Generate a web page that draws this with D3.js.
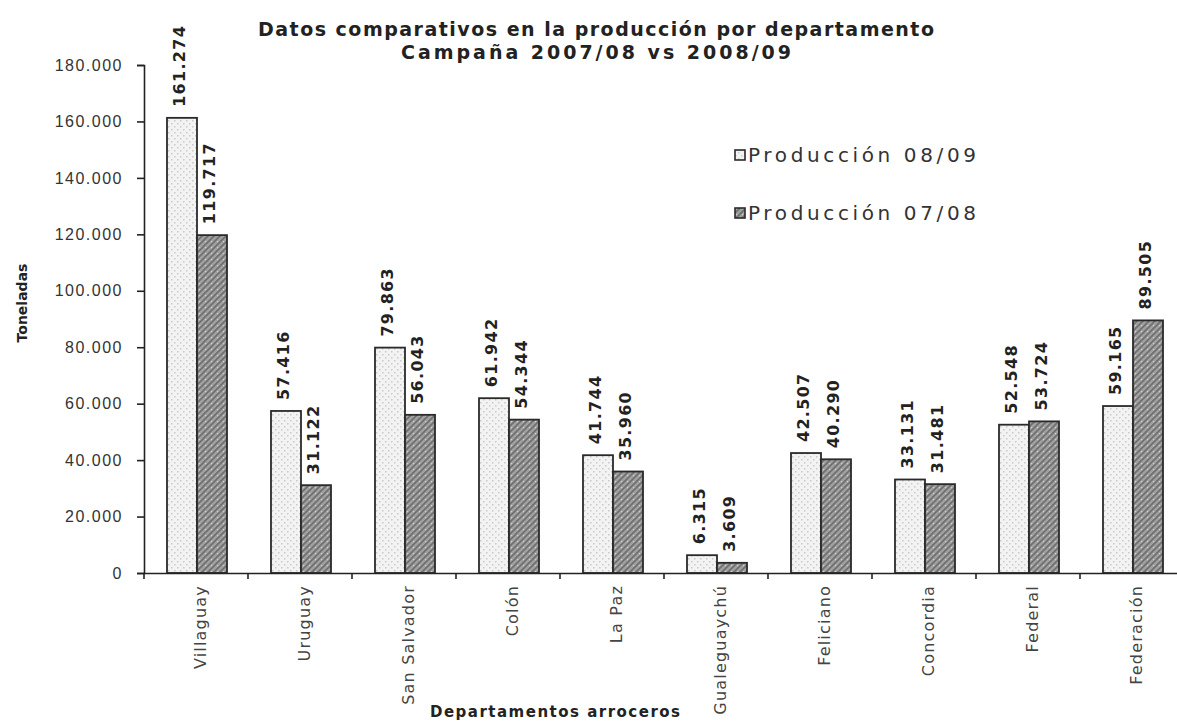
<!DOCTYPE html>
<html lang="es">
  <head>
    <meta charset="utf-8">
    <title>Producción por departamento</title>
    <script src="https://cdn.jsdelivr.net/npm/d3@7"></script>
    <style>
    body{margin:0;background:#fff;}
    svg{display:block;font-family:"DejaVu Sans",sans-serif;}
    .axis path,.axis line{stroke:#222;stroke-width:1.6px;}
    .axis text{fill:#333;}
    .y.axis text{font-size:16px;letter-spacing:1.5px;}
    .cat{font-size:16px;fill:#444;letter-spacing:1.2px;}
    .val{font-size:16px;font-weight:bold;fill:#222;letter-spacing:1.3px;}
    .title{font-size:19px;font-weight:bold;fill:#222;}
    .lab{font-size:14px;font-weight:bold;fill:#222;}
    .leg{font-size:20px;fill:#333;}
    </style>
  </head>
  <body>
    <svg></svg>
    <script>
      var categories=["Villaguay","Uruguay","San Salvador","Colón","La Paz","Gualeguaychú","Feliciano","Concordia","Federal","Federación"];
      var series=["Producción 08/09","Producción 07/08"];
      var prod0809=[161274,57416,79863,61942,41744,6315,42507,33131,52548,59165];
      var prod0708=[119717,31122,56043,54344,35960,3609,40290,31481,53724,89505];
      var yTicks=[0,20000,40000,60000,80000,100000,120000,140000,160000,180000];

      var W=1177,H=722;
      var plotLeft=144,plotBottom=573,plotTop=65;

      var es=d3.formatLocale({decimal:",",thousands:".",grouping:[3],currency:["$",""]});
      var fmt=es.format(",d");

      var rows=categories.map(function(c,i){
        return {cat:c,vals:[prod0809[i],prod0708[i]]};
      });

      var svg=d3.select("svg").attr("width",W).attr("height",H);

      var defs=svg.append("defs");
      var p1=defs.append("pattern").attr("id","light")
        .attr("patternUnits","userSpaceOnUse").attr("width",6).attr("height",6);
      p1.append("rect").attr("width",6).attr("height",6).attr("fill","#f3f3f3");
      p1.append("rect").attr("x",0).attr("y",0).attr("width",1.5).attr("height",1.5).attr("fill","#c9c9c9");
      p1.append("rect").attr("x",3).attr("y",3).attr("width",1.5).attr("height",1.5).attr("fill","#c9c9c9");
      var p2=defs.append("pattern").attr("id","dark")
        .attr("patternUnits","userSpaceOnUse").attr("width",6).attr("height",6);
      p2.append("rect").attr("width",6).attr("height",6).attr("fill","#a0a0a0");
      p2.append("path").attr("d","M0,6 L6,0 M-1,1 L1,-1 M5,7 L7,5")
        .attr("stroke","#6e6e6e").attr("stroke-width",1.6);
      p2.append("rect").attr("x",1).attr("y",1).attr("width",1.2).attr("height",1.2).attr("fill","#d0d0d0");
      var fills=["url(#light)","url(#dark)"];

      var x=d3.scaleBand().domain(categories).range([plotLeft,plotLeft+104*categories.length]).padding(0);
      var xs=d3.scaleBand().domain(series).range([23,83]).padding(0);
      var y=d3.scaleLinear().domain([0,180000]).range([plotBottom,plotTop]);

      // bars
      var g=svg.selectAll("g.grp").data(rows).enter().append("g")
        .attr("class","grp")
        .attr("transform",function(d){return "translate("+x(d.cat)+",0)";});
      g.selectAll("rect").data(function(d){return d.vals;}).enter().append("rect")
        .attr("x",function(d,i){return xs(series[i]);})
        .attr("y",function(d){return y(d);})
        .attr("width",xs.bandwidth())
        .attr("height",function(d){return plotBottom-y(d);})
        .attr("fill",function(d,i){return fills[i];})
        .attr("stroke","#2a2a2a").attr("stroke-width",1.8);
      g.selectAll("text").data(function(d){return d.vals;}).enter().append("text")
        .attr("class","val")
        .attr("transform",function(d,i){
          return "translate("+(xs(series[i])+xs.bandwidth()/2+3)+","+(y(d)-11)+") rotate(-90)";})
        .text(function(d){return fmt(d);});

      // y axis
      var yAxis=d3.axisLeft(y).tickValues(yTicks).tickSize(7).tickPadding(14).tickFormat(fmt);
      svg.append("g").attr("class","y axis").attr("transform","translate("+plotLeft+",0)").call(yAxis);

      // x axis, ticks sit between the departments
      var xAxis=d3.axisBottom(x).tickSize(0).tickFormat("");
      var xg=svg.append("g").attr("class","x axis").attr("transform","translate(0,"+plotBottom+")").call(xAxis);
      xg.selectAll(".bound").data(categories).enter().append("line")
        .attr("class","bound")
        .attr("x1",function(d){return x(d);}).attr("x2",function(d){return x(d);})
        .attr("y1",0).attr("y2",6);
      svg.selectAll("text.cat").data(categories).enter().append("text")
        .attr("class","cat")
        .attr("text-anchor","end")
        .attr("transform",function(d){return "translate("+(x(d)+x.bandwidth()/2+10)+","+(plotBottom+12)+") rotate(-90)";})
        .text(function(d){return d;});

      // titles
      svg.append("text").attr("class","title").attr("x",596).attr("y",36)
        .attr("text-anchor","middle").attr("textLength",676).attr("lengthAdjust","spacing")
        .text("Datos comparativos en la producción por departamento");
      svg.append("text").attr("class","title").attr("x",596).attr("y",59)
        .attr("text-anchor","middle").attr("textLength",390).attr("lengthAdjust","spacing")
        .text("Campaña 2007/08 vs 2008/09");
      svg.append("text").attr("class","lab")
        .attr("transform","translate(27,303) rotate(-90)")
        .attr("text-anchor","middle").text("Toneladas");
      svg.append("text").attr("class","lab").attr("x",555).attr("y",717)
        .attr("text-anchor","middle").attr("textLength",250).attr("lengthAdjust","spacing")
        .style("font-size","15px")
        .text("Departamentos arroceros");

      // legend
      var leg=svg.selectAll("g.leg").data(series).enter().append("g")
        .attr("transform",function(d,i){return "translate(735,"+(155+i*58)+")";});
      leg.append("rect").attr("x",0).attr("y",-5).attr("width",10).attr("height",10)
        .attr("fill",function(d,i){return fills[i];})
        .attr("stroke","#2a2a2a").attr("stroke-width",1.6);
      leg.append("text").attr("class","leg").attr("x",13).attr("y",7)
        .attr("textLength",228).attr("lengthAdjust","spacing")
        .text(function(d){return d;});
    </script>
  </body>
</html>
